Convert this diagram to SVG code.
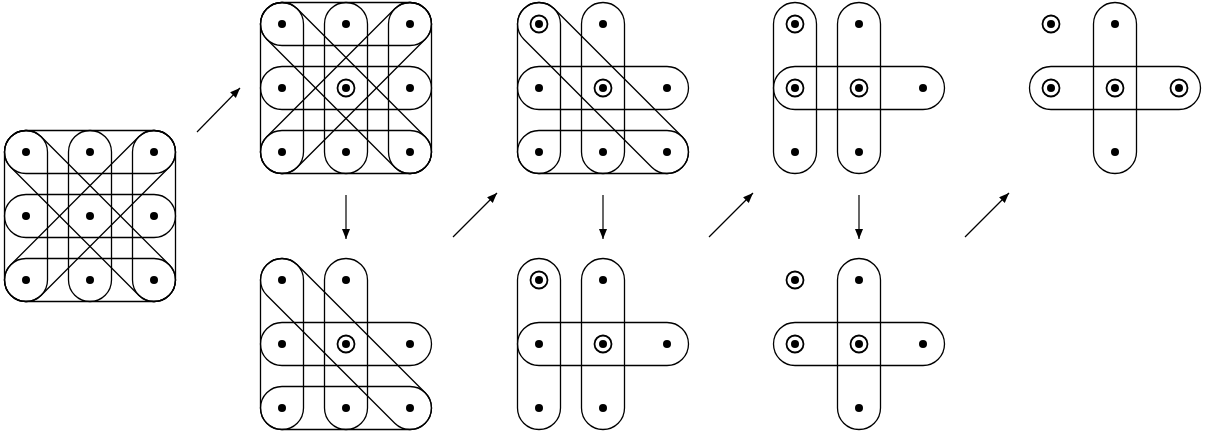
<svg xmlns="http://www.w3.org/2000/svg" xmlns:xlink="http://www.w3.org/1999/xlink" width="1207" height="436" viewBox="0 0 1207 436">
<style>
.s{fill:none;stroke:#000;stroke-width:1.3}
.r{fill:none;stroke:#000;stroke-width:1.8}
.d{fill:#000;stroke:none}
.c{fill:none;stroke:#000;stroke-width:1.2}
</style>
<defs>
<rect id="h" class="s" x="-85.5" y="-21.5" width="171" height="43" rx="21.5"/>
<rect id="v" class="s" x="-21.5" y="-85.5" width="43" height="171" rx="21.5"/>
<rect id="d1" class="s" x="-112" y="-21.5" width="224" height="43" rx="21.5" transform="rotate(45)"/>
<rect id="d2" class="s" x="-112" y="-21.5" width="224" height="43" rx="21.5" transform="rotate(-45)"/>
<circle id="dot" class="d" r="4"/>
<circle id="ring" class="r" r="8.5"/>
<marker id="ah" markerUnits="userSpaceOnUse" markerWidth="12" markerHeight="10" refX="10" refY="4" orient="auto">
<path d="M0,0 L10,4 L0,8 Z" fill="#000"/>
</marker>
</defs>
<g id="grid-a" transform="translate(90,216)">
<use href="#h" y="-64"/><use href="#h"/><use href="#h" y="64"/>
<use href="#v" x="-64"/><use href="#v"/><use href="#v" x="64"/>
<use href="#d1"/><use href="#d2"/>
<use href="#dot" x="-64" y="-64"/><use href="#dot" y="-64"/><use href="#dot" x="64" y="-64"/>
<use href="#dot" x="-64"/><use href="#dot"/><use href="#dot" x="64"/>
<use href="#dot" x="-64" y="64"/><use href="#dot" y="64"/><use href="#dot" x="64" y="64"/>
</g>
<g id="grid-b" transform="translate(346,88)">
<use href="#h" y="-64"/><use href="#h"/><use href="#h" y="64"/>
<use href="#v" x="-64"/><use href="#v"/><use href="#v" x="64"/>
<use href="#d1"/><use href="#d2"/>
<use href="#dot" x="-64" y="-64"/><use href="#dot" y="-64"/><use href="#dot" x="64" y="-64"/>
<use href="#dot" x="-64"/><use href="#dot"/><use href="#ring"/><use href="#dot" x="64"/>
<use href="#dot" x="-64" y="64"/><use href="#dot" y="64"/><use href="#dot" x="64" y="64"/>
</g>
<g id="grid-c" transform="translate(603,88)">
<use href="#h"/><use href="#h" y="64"/>
<use href="#v" x="-64"/><use href="#v"/>
<use href="#d1"/>
<use href="#dot" x="-64" y="-64"/><use href="#ring" x="-64" y="-64"/><use href="#dot" y="-64"/>
<use href="#dot" x="-64"/><use href="#dot"/><use href="#ring"/><use href="#dot" x="64"/>
<use href="#dot" x="-64" y="64"/><use href="#dot" y="64"/><use href="#dot" x="64" y="64"/>
</g>
<g id="grid-d" transform="translate(346,344)">
<use href="#h"/><use href="#h" y="64"/>
<use href="#v" x="-64"/><use href="#v"/>
<use href="#d1"/>
<use href="#dot" x="-64" y="-64"/><use href="#dot" y="-64"/>
<use href="#dot" x="-64"/><use href="#dot"/><use href="#ring"/><use href="#dot" x="64"/>
<use href="#dot" x="-64" y="64"/><use href="#dot" y="64"/><use href="#dot" x="64" y="64"/>
</g>
<g id="grid-e" transform="translate(859,88)">
<use href="#h"/>
<use href="#v" x="-64"/><use href="#v"/>
<use href="#dot" x="-64" y="-64"/><use href="#ring" x="-64" y="-64"/><use href="#dot" y="-64"/>
<use href="#dot" x="-64"/><use href="#ring" x="-64"/><use href="#dot"/><use href="#ring"/><use href="#dot" x="64"/>
<use href="#dot" x="-64" y="64"/><use href="#dot" y="64"/>
</g>
<g id="grid-f" transform="translate(603,344)">
<use href="#h"/>
<use href="#v" x="-64"/><use href="#v"/>
<use href="#dot" x="-64" y="-64"/><use href="#ring" x="-64" y="-64"/><use href="#dot" y="-64"/>
<use href="#dot" x="-64"/><use href="#dot"/><use href="#ring"/><use href="#dot" x="64"/>
<use href="#dot" x="-64" y="64"/><use href="#dot" y="64"/>
</g>
<g id="grid-g" transform="translate(1115,88)">
<use href="#h"/>
<use href="#v"/>
<use href="#dot" x="-64" y="-64"/><use href="#ring" x="-64" y="-64"/><use href="#dot" y="-64"/>
<use href="#dot" x="-64"/><use href="#ring" x="-64"/><use href="#dot"/><use href="#ring"/><use href="#dot" x="64"/><use href="#ring" x="64"/>
<use href="#dot" y="64"/>
</g>
<g id="grid-h" transform="translate(859,344)">
<use href="#h"/>
<use href="#v"/>
<use href="#dot" x="-64" y="-64"/><use href="#ring" x="-64" y="-64"/><use href="#dot" y="-64"/>
<use href="#dot" x="-64"/><use href="#ring" x="-64"/><use href="#dot"/><use href="#ring"/><use href="#dot" x="64"/>
<use href="#dot" y="64"/>
</g>
<g id="connectors" class="c" marker-end="url(#ah)">
<line x1="197" y1="132" x2="240" y2="88"/>
<line x1="346" y1="195" x2="346" y2="239"/>
<line x1="453" y1="237" x2="497" y2="193"/>
<line x1="603" y1="195" x2="603" y2="239"/>
<line x1="709" y1="237" x2="753" y2="193"/>
<line x1="859" y1="195" x2="859" y2="239"/>
<line x1="965" y1="237" x2="1009" y2="193"/>
</g>
</svg>
